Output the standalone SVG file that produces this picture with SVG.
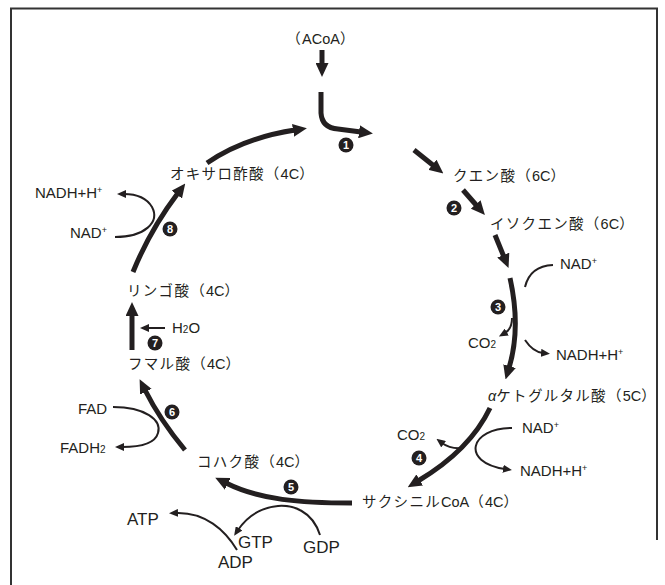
<svg xmlns="http://www.w3.org/2000/svg" width="665" height="585" viewBox="0 0 665 585">
<style>
.jp{font-family:"Noto Sans CJK JP","Liberation Sans",sans-serif;font-size:14.5px;letter-spacing:1.3px;fill:#231f20;}
.la{font-family:"Liberation Sans",Arial,sans-serif;letter-spacing:0;}
.lt{font-family:"Liberation Sans",Arial,sans-serif;font-size:15px;fill:#231f20;}
.big{font-family:"Liberation Sans",Arial,sans-serif;font-size:17px;fill:#231f20;}
.sup{font-size:9px;}
.sub{font-size:10px;}
.thick{fill:none;stroke:#231f20;stroke-width:5;marker-end:url(#hb);}
.thin{fill:none;stroke:#231f20;stroke-width:2;}
.thina{fill:none;stroke:#231f20;stroke-width:2;marker-end:url(#hs);}
.num circle{fill:#231f20;}
.num text{font-family:"Liberation Sans",Arial,sans-serif;font-size:11px;font-weight:bold;fill:#fff;text-anchor:middle;}
</style>
<defs>
<marker id="hb" viewBox="0 0 14 13" markerUnits="userSpaceOnUse" markerWidth="14" markerHeight="13" refX="2" refY="6.5" orient="auto"><path d="M0,0 L14,6.5 L0,13 z" fill="#231f20"/></marker>
<marker id="hs" viewBox="0 0 9 8" markerUnits="userSpaceOnUse" markerWidth="9" markerHeight="8" refX="2" refY="4" orient="auto"><path d="M0,0 L9,4 L0,8 z" fill="#231f20"/></marker>
</defs>
<rect width="665" height="585" fill="#fff"/>
<path d="M11,585 L11,8.5 L657,8.5 L657,540" fill="none" stroke="#333" stroke-width="2"/>

<g id="connectors">
<path class="thick" d="M322,50 L322,65"/>
<path class="thick" d="M321,92 L321,113 Q322,128 338,129 L361,132"/>
<path class="thick" d="M207,163 Q243,138 295,130"/>
<path class="thick" d="M414,150 L434,166"/>
<path class="thick" d="M463,190 L477,206"/>
<path class="thick" d="M495,235 L504,257"/>
<path class="thick" d="M510,278 C516,305 519,335 509,368"/>
<path class="thin" d="M553,265 Q530,266 525,287"/>
<path class="thina" d="M512,318 Q512,329 505,333"/>
<path class="thina" d="M525,340 Q533,352 543,353"/>
<path class="thick" d="M490,408 Q470,450 418,481"/>
<path class="thina" d="M512,428 C470,428 460,462 505,469"/>
<path class="thina" d="M462,448 Q450,449 442,443"/>
<path class="thick" d="M352,503 C300,503 260,500 226,483"/>
<path class="thina" d="M320,535 C312,510 292,505 278,506 C258,508 246,518 238,530"/>
<path class="thina" d="M237,550 C225,530 205,512 176,513"/>
<path class="thick" d="M185,450 Q160,420 145,390"/>
<path class="thina" d="M113,407 C145,407 162,420 158,433 C155,444 140,447 122,447"/>
<path class="thick" d="M132,350 L132,314"/>
<path class="thina" d="M165,328 L147,328"/>
<path class="thick" d="M133,272 Q150,230 178,193"/>
<path class="thina" d="M115,237 C145,237 160,222 152,207 C146,197 135,194 124,194"/>
</g>

<g id="acoa"><text class="jp" x="321" y="44" text-anchor="middle">（<tspan class="la">ACoA</tspan>）</text></g>
<g id="citrate"><text class="jp" x="453" y="181">クエン酸（<tspan class="la">6C</tspan>）</text></g>
<g id="isocitrate"><text class="jp" x="490" y="229">イソクエン酸（<tspan class="la">6C</tspan>）</text></g>
<g id="ketoglutarate"><text class="jp" x="488" y="401"><tspan class="la" font-style="italic">α</tspan>ケトグルタル酸（<tspan class="la">5C</tspan>）</text></g>
<g id="succinylcoa"><text class="jp" x="362" y="507">サクシニル<tspan class="la">CoA</tspan>（<tspan class="la">4C</tspan>）</text></g>
<g id="succinate"><text class="jp" x="197" y="467">コハク酸（<tspan class="la">4C</tspan>）</text></g>
<g id="fumarate"><text class="jp" x="128" y="369">フマル酸（<tspan class="la">4C</tspan>）</text></g>
<g id="malate"><text class="jp" x="127" y="296">リンゴ酸（<tspan class="la">4C</tspan>）</text></g>
<g id="oxaloacetate"><text class="jp" x="170" y="179">オキサロ酢酸（<tspan class="la">4C</tspan>）</text></g>

<g id="labels">
<text class="lt" x="560" y="269">NAD<tspan class="sup" dy="-5">+</tspan></text>
<text class="lt" x="468" y="348">CO<tspan class="sub">2</tspan></text>
<text class="lt" x="556" y="360">NADH+H<tspan class="sup" dy="-5">+</tspan></text>
<text class="lt" x="522" y="433">NAD<tspan class="sup" dy="-5">+</tspan></text>
<text class="lt" x="397" y="440">CO<tspan class="sub">2</tspan></text>
<text class="lt" x="520" y="476">NADH+H<tspan class="sup" dy="-5">+</tspan></text>
<text class="big" x="127" y="525">ATP</text>
<text class="big" x="238" y="548">GTP</text>
<text class="big" x="303" y="553">GDP</text>
<text class="big" x="218" y="568">ADP</text>
<text class="lt" x="78" y="414">FAD</text>
<text class="lt" x="60" y="453">FADH<tspan class="sub">2</tspan></text>
<text class="lt" x="172" y="333">H<tspan class="sub">2</tspan>O</text>
<text class="lt" x="70" y="238">NAD<tspan class="sup" dy="-5">+</tspan></text>
<text class="lt" x="35" y="198">NADH+H<tspan class="sup" dy="-5">+</tspan></text>
</g>

<g id="n1" class="num"><circle cx="346" cy="145" r="7.5"/><text x="346" y="149">1</text></g>
<g id="n2" class="num"><circle cx="454" cy="208" r="7.5"/><text x="454" y="212">2</text></g>
<g id="n3" class="num"><circle cx="498" cy="307" r="7.5"/><text x="498" y="311">3</text></g>
<g id="n4" class="num"><circle cx="419" cy="458" r="7.5"/><text x="419" y="462">4</text></g>
<g id="n5" class="num"><circle cx="291" cy="487" r="7.5"/><text x="291" y="491">5</text></g>
<g id="n6" class="num"><circle cx="172" cy="412" r="7.5"/><text x="172" y="416">6</text></g>
<g id="n7" class="num"><circle cx="155" cy="343" r="7.5"/><text x="155" y="347">7</text></g>
<g id="n8" class="num"><circle cx="170" cy="229" r="7.5"/><text x="170" y="233">8</text></g>
</svg>
